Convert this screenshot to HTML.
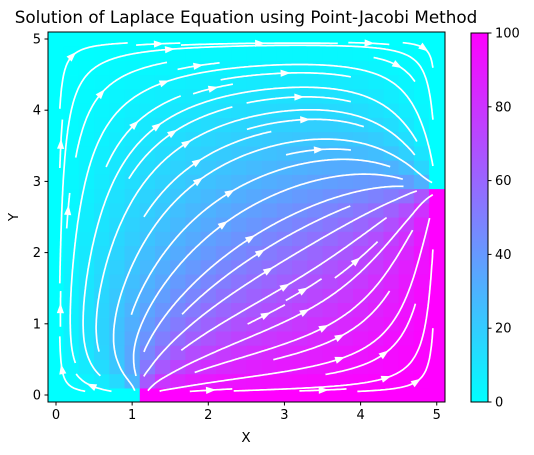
<!DOCTYPE html>
<html><head><meta charset="utf-8"><style>
body{margin:0;background:#fff;}
svg{display:block;font-family:"DejaVu Sans","Liberation Sans",sans-serif;}
</style></head><body>
<svg id="chart" width="534" height="455" viewBox="0 0 534 455">
<defs><clipPath id="clip"><rect x="48" y="32" width="397" height="370"/></clipPath>
<linearGradient id="cbg" x1="0" y1="1" x2="0" y2="0"><stop offset="0" stop-color="#00ffff"/><stop offset="1" stop-color="#ff00ff"/></linearGradient></defs>
<text x="246" y="23" text-anchor="middle" font-size="16.8" fill="#000">Solution of Laplace Equation using Point-Jacobi Method</text>
<g id="heat" clip-path="url(#clip)"></g>
<g id="stream" clip-path="url(#clip)"></g>
<rect x="48" y="32" width="397" height="370" fill="none" stroke="#000" stroke-width="1"/>
<g id="axes"></g>
<text x="246" y="442" text-anchor="middle" font-size="13.5">X</text>
<text x="18" y="217" text-anchor="middle" font-size="13.5" transform="rotate(-90 18 217)">Y</text>
<rect x="471" y="33" width="17" height="369" fill="url(#cbg)" stroke="#000" stroke-width="1"/>
<g id="cbaxis"></g>
</svg>
<script>
const xTicks=[0,1,2,3,4,5];
const yTicks=[0,1,2,3,4,5];
const cbTicks=[0,20,40,60,80,100];
const bottomHot=100;   // bottom boundary value for x >= 1.2
const bottomHotStart=1.2;
const rightHot=100;    // right boundary value for y <= 2.8
const rightHotEnd=2.8;
const gridN=26, h=0.2;

const sx=x=>56+76.15*x, sy=y=>395-71.2*y;
const NS="http://www.w3.org/2000/svg";
function mk(tag,attrs,parent){const e=document.createElementNS(NS,tag);for(const k in attrs)e.setAttribute(k,attrs[k]);parent.appendChild(e);return e;}

let T=[];for(let j=0;j<gridN;j++){T.push(new Array(gridN).fill(0));}
function applyBC(A){for(let i=0;i<gridN;i++){A[0][i]=(i*h>=bottomHotStart-1e-9)?bottomHot:0;A[gridN-1][i]=0;}
 for(let j=0;j<gridN;j++){A[j][0]=0;A[j][gridN-1]=(j*h<=rightHotEnd+1e-9)?rightHot:0;}
 A[0][0]=0;}
applyBC(T);
for(let it=0;it<4000;it++){const N=T.map(r=>r.slice());
 for(let j=1;j<gridN-1;j++)for(let i=1;i<gridN-1;i++)N[j][i]=0.25*(T[j][i-1]+T[j][i+1]+T[j-1][i]+T[j+1][i]);
 applyBC(N);T=N;}
const heat=document.getElementById('heat');
for(let j=0;j<gridN;j++)for(let i=0;i<gridN;i++){const t=T[j][i]/100;
 const c=`rgb(${Math.round(255*t)},${Math.round(255*(1-t))},255)`;
 const r=mk('rect',{x:sx(i*h-h/2),y:sy(j*h+h/2),width:sx(h)-sx(0)+0.6,height:sy(0)-sy(h)+0.6,fill:c},heat);
 
 }

const gx=[],gy=[];
for(let j=0;j<gridN;j++){gx.push([]);gy.push([]);for(let i=0;i<gridN;i++){
 const i0=Math.max(i-1,0),i1=Math.min(i+1,gridN-1),j0=Math.max(j-1,0),j1=Math.min(j+1,gridN-1);
 gx[j].push((T[j][i1]-T[j][i0])/((i1-i0)*h));gy[j].push((T[j1][i]-T[j0][i])/((j1-j0)*h));}}
function interp(A,x,y){let fi=x/h,fj=y/h;fi=Math.min(Math.max(fi,0),gridN-1.0001);fj=Math.min(Math.max(fj,0),gridN-1.0001);
 const i=Math.floor(fi),j=Math.floor(fj),a=fi-i,b=fj-j;
 return A[j][i]*(1-a)*(1-b)+A[j][i+1]*a*(1-b)+A[j+1][i]*(1-a)*b+A[j+1][i+1]*a*b;}
function vel(x,y){const u=-interp(gy,x,y),v=interp(gx,x,y);const s=Math.hypot(u,v);if(s<1e-6)return null;return [u/s,v/s];}

const M=30,L=5;const used=new Uint8Array(M*M);
const mc=(x,y)=>Math.round(y/L*(M-1))*M+Math.round(x/L*(M-1));
const ds=0.02,maxLen=20,minLen=0.5,lo=0.05,hi=4.95;
function run(x,y,dir,seedCell,marks){const pts=[];let cur=seedCell,len=0;
 while(len<maxLen){const k1=vel(x,y);if(!k1)break;
  const xm=x+dir*k1[0]*ds/2,ym=y+dir*k1[1]*ds/2;const k2=vel(xm,ym);if(!k2)break;
  const nx=x+dir*k2[0]*ds,ny=y+dir*k2[1]*ds;
  if(nx<lo||nx>hi||ny<lo||ny>hi)break;
  const c=mc(nx,ny);if(c!==cur){if(used[c])break;used[c]=1;marks.push(c);cur=c;}
  x=nx;y=ny;pts.push([x,y]);len+=ds;}
 return [pts,len];}
const seeds=[];{let x0=0,x1=M-1,y0=0,y1=M-1;while(x0<=x1&&y0<=y1){
 for(let i=x0;i<=x1;i++)seeds.push([i,y0]);for(let j=y0+1;j<=y1;j++)seeds.push([x1,j]);
 if(y1>y0)for(let i=x1-1;i>=x0;i--)seeds.push([i,y1]);if(x1>x0)for(let j=y1-1;j>y0;j--)seeds.push([x0,j]);
 x0++;x1--;y0++;y1--;}}
const stream=document.getElementById('stream');
for(const [mi,mj] of seeds){const c=mj*M+mi;if(used[c])continue;
 let x=mi*L/(M-1),y=mj*L/(M-1);x=Math.min(Math.max(x,lo+0.01),hi-0.01);y=Math.min(Math.max(y,lo+0.01),hi-0.01);
 used[c]=1;const marks=[c];
 const [b,lb]=run(x,y,-1,c,marks);const [f,lf]=run(x,y,1,c,marks);
 if(lb+lf<minLen){for(const m of marks)used[m]=0;continue;}
 const pts=b.reverse().concat([[x,y]],f);
 const p=mk('polyline',{points:pts.map(q=>sx(q[0]).toFixed(1)+','+sy(q[1]).toFixed(1)).join(' '),fill:'none',stroke:'#fff','stroke-width':1.7,'stroke-linejoin':'round'},stream);
 
 
 const mid=Math.floor(pts.length/2),a=pts[Math.max(mid-1,0)],bq=pts[Math.min(mid+1,pts.length-1)];
 const X=sx(pts[mid][0]),Y=sy(pts[mid][1]);let dx=sx(bq[0])-sx(a[0]),dy=sy(bq[1])-sy(a[1]);const d=Math.hypot(dx,dy)||1;dx/=d;dy/=d;
 const tip=[X+dx*5,Y+dy*5],bx=X-dx*5,by=Y-dy*5;
 const ar=mk('polygon',{points:`${tip[0]},${tip[1]} ${bx-dy*3.6},${by+dx*3.6} ${bx+dy*3.6},${by-dx*3.6}`,fill:'#fff'},stream);
 
 }

const ax=document.getElementById('axes');
for(const t of xTicks){mk('line',{x1:sx(t),x2:sx(t),y1:402,y2:405.5,stroke:'#000'},ax);
 const e=mk('text',{x:sx(t),y:419,'text-anchor':'middle','font-size':13},ax);e.textContent=t;
 
 }
for(const t of yTicks){mk('line',{x1:44.5,x2:48,y1:sy(t),y2:sy(t),stroke:'#000'},ax);
 const e=mk('text',{x:41,y:sy(t)+4.5,'text-anchor':'end','font-size':13},ax);e.textContent=t;
 
 }
const cb=document.getElementById('cbaxis');
for(const t of cbTicks){const y=402-t/100*369;mk('line',{x1:488,x2:491.5,y1:y,y2:y,stroke:'#000'},cb);
 const e=mk('text',{x:495,y:y+4.5,'font-size':13},cb);e.textContent=t;
 
 }
</script>
</body></html>
